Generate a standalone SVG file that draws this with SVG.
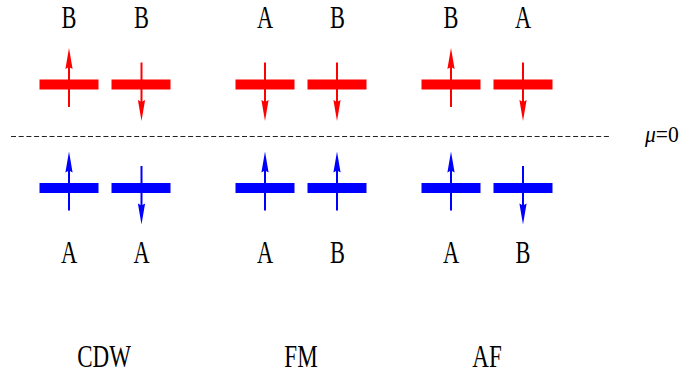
<svg xmlns="http://www.w3.org/2000/svg" xmlns:xlink="http://www.w3.org/1999/xlink" width="680" height="378" viewBox="0 0 680 378">
<style>
  .lbl { font-family: "Liberation Serif", "Times New Roman", serif; font-size: 32px; fill: #000; text-anchor: middle; }
  .mu { font-family: "Liberation Serif", "Times New Roman", serif; font-size: 24px; fill: #000; }
  .red { fill: #ff0000; stroke: #ff0000; }
  .blue { fill: #0000ff; stroke: #0000ff; }
  .ar line { stroke-width: 2; }
  .ar polygon, .ar rect { stroke: none; }
</style>
<defs>
  <g id="bar"><rect x="-29" y="-4.5" width="58" height="9"/></g>
  <g id="up" class="ar"><line x1="0" y1="22.5" x2="0" y2="-18"/><polygon points="0,-36.5 -3.6,-15.5 0,-17.5 3.6,-15.5"/></g>
  <g id="down" class="ar"><line x1="0" y1="-22" x2="0" y2="18"/><polygon points="0,36.5 -3.6,15.5 0,17.5 3.6,15.5"/></g>
</defs>

<g id="connectors">
  <line x1="11" y1="136.5" x2="611" y2="136.5" stroke="#222" stroke-width="1" stroke-dasharray="5,2.7"/>
</g>

<!-- top row (red) -->
<g id="cdw-top-1" class="red"><use xlink:href="#bar" x="69" y="84.5"/><use xlink:href="#up" x="69" y="84.5"/></g>
<g id="cdw-top-2" class="red"><use xlink:href="#bar" x="141" y="84.5"/><use xlink:href="#down" x="141.5" y="84.5"/></g>
<g id="fm-top-1" class="red"><use xlink:href="#bar" x="265" y="84.5"/><use xlink:href="#down" x="265" y="84.5"/></g>
<g id="fm-top-2" class="red"><use xlink:href="#bar" x="337" y="84.5"/><use xlink:href="#down" x="337" y="84.5"/></g>
<g id="af-top-1" class="red"><use xlink:href="#bar" x="451" y="84.5"/><use xlink:href="#up" x="451" y="84.5"/></g>
<g id="af-top-2" class="red"><use xlink:href="#bar" x="523" y="84.5"/><use xlink:href="#down" x="523" y="84.5"/></g>

<!-- bottom row (blue) -->
<g id="cdw-bot-1" class="blue"><use xlink:href="#bar" x="69" y="188"/><use xlink:href="#up" x="69" y="188"/></g>
<g id="cdw-bot-2" class="blue"><use xlink:href="#bar" x="141" y="188"/><use xlink:href="#down" x="141.5" y="188"/></g>
<g id="fm-bot-1" class="blue"><use xlink:href="#bar" x="265" y="188"/><use xlink:href="#up" x="265" y="188"/></g>
<g id="fm-bot-2" class="blue"><use xlink:href="#bar" x="337" y="188"/><use xlink:href="#up" x="337" y="188"/></g>
<g id="af-bot-1" class="blue"><use xlink:href="#bar" x="451" y="188"/><use xlink:href="#up" x="451" y="188"/></g>
<g id="af-bot-2" class="blue"><use xlink:href="#bar" x="523" y="188"/><use xlink:href="#down" x="523" y="188"/></g>

<!-- labels -->
<g id="labels-top">
  <text class="lbl" transform="translate(69,28) scale(0.7,1)">B</text>
  <text class="lbl" transform="translate(141.5,28) scale(0.7,1)">B</text>
  <text class="lbl" transform="translate(265,28) scale(0.7,1)">A</text>
  <text class="lbl" transform="translate(337.5,28) scale(0.7,1)">B</text>
  <text class="lbl" transform="translate(451,28) scale(0.7,1)">B</text>
  <text class="lbl" transform="translate(523,28) scale(0.7,1)">A</text>
</g>
<g id="labels-bottom">
  <text class="lbl" transform="translate(69,263) scale(0.7,1)">A</text>
  <text class="lbl" transform="translate(141.5,263) scale(0.7,1)">A</text>
  <text class="lbl" transform="translate(265,263) scale(0.7,1)">A</text>
  <text class="lbl" transform="translate(337.5,263) scale(0.7,1)">B</text>
  <text class="lbl" transform="translate(451,263) scale(0.7,1)">A</text>
  <text class="lbl" transform="translate(523,263) scale(0.7,1)">B</text>
</g>
<g id="titles">
  <text class="lbl" transform="translate(104,367) scale(0.72,1)">CDW</text>
  <text class="lbl" transform="translate(301,367) scale(0.72,1)">FM</text>
  <text class="lbl" transform="translate(487,367) scale(0.72,1)">AF</text>
</g>
<g id="mu">
  <text class="mu" transform="translate(645,142) scale(0.9,1)"><tspan font-style="italic">μ</tspan>=0</text>
</g>
</svg>
